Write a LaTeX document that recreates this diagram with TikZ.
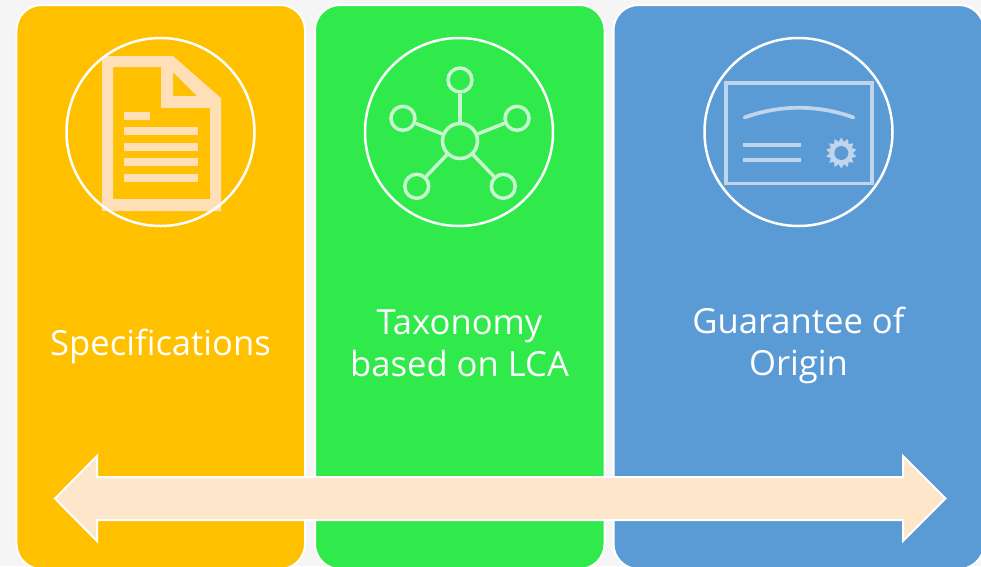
\documentclass[tikz,border=0pt]{standalone}
\usepackage{fontspec}
\setmainfont{Open Sans}
\usetikzlibrary{shapes.geometric}
\definecolor{pageback}{HTML}{F5F5F5}
\definecolor{specfill}{HTML}{FFC000}
\definecolor{taxofill}{HTML}{2FEA4A}
\definecolor{origfill}{HTML}{5B9BD5}
\definecolor{arrowfill}{HTML}{FEE6CB}
\definecolor{docicon}{HTML}{FFDFB8}
\definecolor{neticon}{HTML}{C8F6CF}
\definecolor{certicon}{HTML}{C0D5EC}
\tikzset{
	panel/.style={draw=white, line width=0.4mm, rounded corners=0.5cm},
	ring/.style={draw=white, line width=0.5mm},
	caption/.style={text=white, align=center, inner sep=0, font=\fontsize{19.7}{24}\selectfont},
	netdot/.style={circle, draw=neticon, line width=0.7mm, inner sep=0, minimum size=0.48cm},
	nethub/.style={netdot, minimum size=0.7cm},
	netline/.style={draw=neticon, line width=0.7mm},
	certline/.style={draw=certicon, line width=0.75mm},
	seal/.style={star, star points=14, star point ratio=1.35, fill=certicon, inner sep=0, minimum size=0.62cm}
}

\begin{document}
\begin{tikzpicture}[x=0.02cm, y=-0.02cm]
			%%%%% START %%%%%
			\useasboundingbox (0, 0) rectangle (981, 566);
			\clip (0, 0) rectangle (981, 566);
			\fill[pageback] (0, 0) rectangle (981, 566);

			\draw[panel, fill=specfill] (16.5, 5) rectangle (305, 569);
			\draw[panel, fill=taxofill] (315, 5) rectangle (604.5, 569);
			\draw[panel, fill=origfill] (613.5, 5) rectangle (984, 569);

			% document
			\fill[docicon, even odd rule] (102, 56) -- (173, 56) -- (221, 98) -- (221, 211) -- (102, 211) -- cycle
				(113, 67) -- (113, 199) -- (210, 199) -- (210, 108) -- (161, 108) -- (161, 67) -- cycle
				(173, 72) -- (173, 96) -- (197, 96) -- cycle;
			\fill[docicon] (124, 112) rectangle (150, 120);
			\foreach \liney in {127, 143, 158, 174}
				\fill[docicon] (124, \liney) rectangle (198, \liney+8);
			\draw[ring] (160.5, 132) circle (94);

			% network
			\node[nethub] (hub) at (460, 141) {};
			\node[netdot] (sattop) at (460, 80) {};
			\node[netdot] (satleft) at (403, 118.3) {};
			\node[netdot] (satright) at (517, 118.3) {};
			\node[netdot] (satlowleft) at (416.7, 186.3) {};
			\node[netdot] (satlowright) at (503.3, 186.3) {};
			\foreach \sat in {sattop, satleft, satright, satlowleft, satlowright}
				\draw[netline] (hub) -- (\sat);
			\draw[ring] (459, 132) circle (94);

			% certificate
			\draw[certline] (726, 83) rectangle (872, 183.5);
			\draw[certline, line cap=round] (744.5, 117.5) .. controls (780, 104.5) and (818, 104.5) .. (853.5, 117.5);
			\draw[certline] (743, 145) -- (801, 145);
			\draw[certline] (743, 160) -- (801, 160);
			\node[seal] (seal) at (841.3, 153) {};
			\fill[origfill] (seal.center) circle (7);
			\draw[ring] (798.5, 132) circle (94);

			\node[caption] (spec) at (160.5, 346) {Specifications};
			\node[caption] (taxo) at (459.5, 343) {Taxonomy\\based on LCA};
			\node[caption] (orig) at (798.5, 345) {Guarantee of\\Origin};

			\draw[draw=white, line width=0.4mm, fill=arrowfill] (55, 498.5) -- (97, 456) -- (97, 477) -- (903, 477) -- (903, 456) -- (945.5, 498.5) -- (903, 541) -- (903, 520) -- (97, 520) -- (97, 541) -- cycle;
			%%%%% END %%%%%
		\end{tikzpicture}
\end{document}
